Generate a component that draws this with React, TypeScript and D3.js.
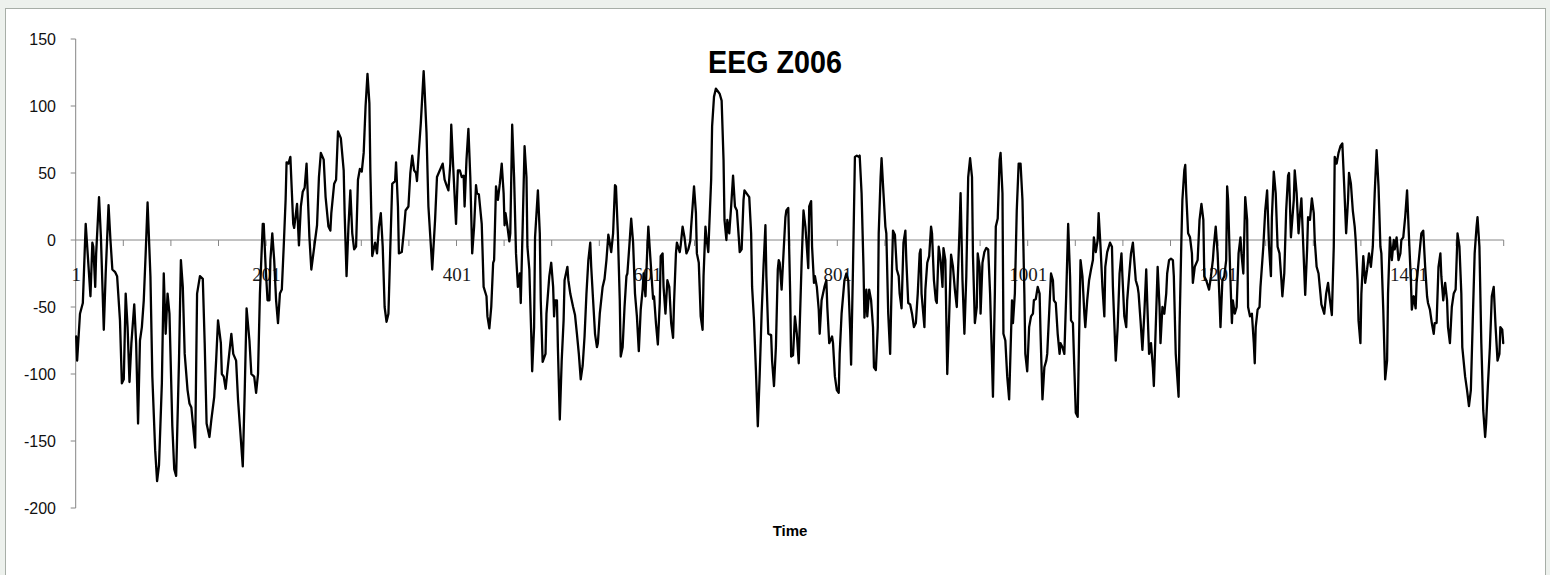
import React from 'react';
import * as d3 from 'd3';

const W = 1550;
const H = 575;
const chartTitle = 'EEG Z006';
const xAxisTitle = 'Time';
const sampleCount = 1500;
const yTicks = [-200, -150, -100, -50, 0, 50, 100, 150];
const xLabelSamples = [1, 201, 401, 601, 801, 1001, 1201, 1401];
const xTickStep = 50;

// [sample number, amplitude]
const eegSamples: [number, number][] = [
  [1,-72],[2,-90],[5,-55],[8,-47],[11,12],[14,-20],[16,-42],[18,-2],[19,-5],[21,-35],[22,-10],[25,32],[27,2],[30,-67],[32,-25],[35,26],[37,0],[39,-22],[42,-24],[44,-27],[47,-60],[49,-107],[51,-104],[53,-40],[55,-65],[57,-106],[59,-77],[62,-48],[64,-77],[66,-137],[68,-75],[70,-65],[72,-45],[74,-10],[76,28],[79,-27],[81,-102],[84,-157],[86,-180],[88,-168],[91,-107],[93,-25],[95,-70],[97,-40],[99,-55],[102,-139],[104,-171],[106,-176],[109,-90],[111,-15],[113,-35],[115,-85],[118,-112],[120,-122],[122,-125],[126,-155],[128,-40],
  [131,-27],[134,-29],[136,-77],[138,-137],[141,-147],[143,-134],[146,-117],[148,-90],[150,-60],[153,-77],[154,-100],[156,-102],[158,-111],[161,-90],[164,-70],[166,-85],[169,-90],[171,-119],[173,-139],[176,-169],[178,-114],[180,-51],[183,-75],[185,-100],[188,-102],[190,-114],[192,-100],[194,-40],[197,12],[198,12],[200,-20],[202,-45],[204,-45],[205,-15],[207,5],[209,-15],[211,-45],[213,-62],[215,-40],[217,-37],[219,-5],[221,30],[222,58],[224,57],[226,62],[227,45],[229,12],[230,9],[233,27],[235,-4],[237,25],[239,36],[241,39],[243,57],[246,2],[248,-22],[252,0],[254,11],[256,47],[258,65],[261,60],[263,32],[266,10],
  [268,7],[269,20],[272,42],[274,45],[276,81],[279,76],[282,52],[283,20],[285,-27],[287,10],[289,37],[291,5],[293,-7],[295,-5],[297,45],[299,53],[301,51],[303,65],[305,100],[307,124],[309,102],[310,52],[312,-12],[315,-2],[317,-10],[319,10],[321,20],[323,-5],[325,-50],[327,-61],[329,-55],[331,-5],[333,42],[336,44],[337,58],[339,25],[340,-10],[343,-9],[345,5],[347,22],[350,25],[352,50],[354,63],[356,52],[358,50],[359,44],[361,67],[363,87],[366,126],[367,112],[369,80],[371,25],[374,-9],[375,-22],[378,15],[380,47],[383,52],[386,57],[388,45],[390,41],[392,37],[394,57],[395,86],[397,55],[400,12],[402,52],
  [404,52],[406,47],[408,48],[409,25],[411,60],[413,83],[415,47],[417,-10],[419,10],[421,41],[422,35],[424,34],[427,12],[429,-35],[432,-42],[433,-57],[435,-66],[437,-50],[439,-17],[440,-15],[442,40],[444,30],[446,42],[448,57],[450,35],[451,11],[452,20],[454,10],[456,-1],[457,5],[459,86],[461,47],[463,-10],[465,-35],[467,-25],[468,-47],[470,10],[472,70],[474,47],[475,-5],[477,-22],[479,-70],[480,-98],[482,-65],[483,2],[486,37],[488,5],[489,-45],[491,-91],[494,-85],[495,-55],[498,-27],[500,-17],[502,-35],[503,-57],[504,-45],[506,-45],[507,-80],[509,-134],[511,-90],[513,-60],[514,-30],[517,-20],[518,-30],[520,-40],[523,-50],[525,-56],[527,-70],[529,-85],[531,-104],[533,-94],[535,-72],[537,-40],[539,-15],
  [541,-2],[542,-20],[544,-45],[546,-70],[548,-80],[549,-77],[551,-55],[554,-35],[556,-29],[558,-15],[560,4],[561,0],[563,-9],[565,5],[567,41],[568,40],[570,5],[572,-45],[573,-87],[575,-80],[577,-50],[579,-27],[580,-25],[582,-5],[584,16],[586,-2],[588,-40],[590,-57],[592,-83],[594,-52],[596,-37],[597,-25],[599,-42],[601,-5],[602,10],[604,-12],[607,-44],[608,-42],[610,-62],[612,-78],[614,-47],[615,-12],[617,-10],[618,-35],[620,-55],[622,-30],[624,-35],[626,-62],[628,-73],[629,-47],[631,-10],[632,-2],[635,-9],[636,-4],[638,10],[640,2],[642,-10],[644,-7],[646,-1],[647,10],[650,40],[652,20],[653,-10],[655,-17],[657,-57],[659,-67],[660,-27],[662,10],[663,2],[665,-9],[666,10],[668,45],[669,85],[671,107],[673,113],[675,111],
  [677,109],[679,104],[681,60],[682,15],[684,0],[685,15],[687,5],[689,25],[691,48],[693,25],[695,22],[697,2],[698,-9],[700,-7],[702,30],[703,37],[705,35],[708,32],[710,5],[711,-35],[713,-60],[715,-97],[717,-139],[719,-100],[721,-55],[723,-20],[725,11],[726,-27],[728,-70],[731,-71],[732,-90],[734,-109],[736,-80],[738,-22],[739,-15],[740,-17],[742,-37],[744,-10],[746,17],[747,22],[749,24],[751,-40],[752,-87],[754,-86],[756,-57],[758,-70],[760,-92],[761,-65],[763,-17],[765,22],[767,10],[768,0],[770,-21],[771,25],[773,29],[774,-5],[776,-32],[777,-27],[779,-35],[781,-52],[782,-70],[784,-45],[787,-35],[789,-30],[790,-50],[792,-77],[795,-72],[796,-77],[798,-102],[800,-112],[802,-114],[803,-85],[805,-55],[808,-30],[810,-25],[812,-30],
  [814,-67],[815,-93],[817,-20],[819,62],[821,63],[823,62],[824,63],[826,35],[828,-20],[829,-58],[831,-37],[832,-57],[834,-37],[836,-45],[838,-65],[839,-95],[841,-97],[843,-65],[844,5],[846,47],[847,61],[849,35],[851,10],[852,5],[854,-55],[856,-85],[858,-20],[859,7],[861,4],[863,-22],[865,-27],[866,-40],[868,-51],[870,-2],[872,7],[873,-15],[875,-47],[877,-48],[879,-55],[881,-65],[883,-62],[885,-40],[887,-10],[888,-7],[889,-40],[892,-65],[893,-37],[895,-17],[897,-12],[899,10],[900,5],[902,-30],[904,-45],[905,-47],[907,-5],[909,-15],[911,-35],[912,-6],[914,-15],[916,-100],[918,-57],[920,-11],[922,-20],[924,-37],[926,-50],[929,10],[930,35],[932,-30],[934,-70],[936,-27],[938,47],[940,61],[942,47],[943,-12],[945,-62],[947,-50],[948,-10],
  [950,-20],[951,-55],[953,-17],[955,-9],[957,-6],[959,-7],[961,-40],[963,-90],[964,-117],[966,-40],[967,10],[969,16],[971,60],[972,65],[974,35],[975,-70],[977,-75],[979,-102],[981,-119],[983,-70],[984,-45],[985,-62],[987,-40],[989,22],[991,57],[993,57],[995,30],[997,-40],[998,-85],[1000,-98],[1002,-65],[1004,-57],[1006,-55],[1007,-45],[1009,-44],[1011,-35],[1013,-40],[1014,-70],[1016,-119],[1018,-95],[1020,-90],[1021,-85],[1023,-55],[1025,-25],[1027,-30],[1028,-45],[1030,-47],[1032,-70],[1034,-85],[1035,-77],[1037,-80],[1039,-85],[1041,-40],[1043,12],[1045,-27],[1046,-60],[1048,-62],[1049,-85],[1051,-129],[1053,-132],[1055,-52],[1056,-15],[1058,-27],[1060,-55],[1061,-65],[1063,-45],[1065,-30],[1067,-22],[1069,-15],[1070,2],[1072,-9],[1074,0],[1075,20],[1077,-5],[1079,-35],[1081,-57],[1082,-20],[1084,-9],
  [1087,-2],[1089,-5],[1090,-35],[1093,-90],[1095,-65],[1097,-25],[1099,-10],[1100,-27],[1102,-57],[1104,-65],[1105,-45],[1107,-27],[1109,-10],[1111,-2],[1114,-30],[1116,-35],[1117,-40],[1119,-60],[1121,-82],[1123,-55],[1125,-22],[1126,-45],[1128,-85],[1130,-77],[1132,-95],[1133,-109],[1135,-65],[1137,-20],[1139,-50],[1140,-77],[1142,-50],[1144,-55],[1146,-40],[1147,-25],[1149,-15],[1151,-14],[1153,-15],[1154,-27],[1156,-85],[1159,-117],[1160,-65],[1162,2],[1163,30],[1165,52],[1166,56],[1167,35],[1169,5],[1171,2],[1173,-10],[1174,-32],[1176,-20],[1179,-15],[1181,15],[1183,27],[1185,15],[1186,-27],[1188,-30],[1191,-37],[1193,-27],[1195,-15],[1196,-5],[1198,10],[1200,-10],[1202,-45],[1203,-65],[1205,-30],[1207,-27],[1209,-15],[1210,40],[1211,30],[1213,-20],[1215,-62],[1216,-45],[1218,-55],[1220,-50],[1222,-10],
  [1224,2],[1225,-10],[1227,-25],[1229,32],[1231,15],[1232,-50],[1234,-57],[1236,-55],[1238,-77],[1239,-92],[1240,-65],[1242,-52],[1244,-50],[1245,-35],[1247,-15],[1248,-5],[1250,22],[1252,37],[1254,-5],[1256,-27],[1257,17],[1259,51],[1261,35],[1263,-5],[1265,-10],[1267,-30],[1268,-42],[1270,-25],[1272,22],[1274,48],[1275,50],[1277,2],[1280,30],[1281,52],[1283,35],[1285,5],[1286,15],[1288,31],[1290,-5],[1292,-41],[1294,-7],[1295,17],[1297,15],[1299,31],[1301,20],[1302,0],[1304,-20],[1306,-25],[1308,-40],[1309,-48],[1312,-55],[1314,-40],[1316,-32],[1318,-45],[1320,-56],[1322,-5],[1323,62],[1325,57],[1327,65],[1329,70],[1331,72],[1333,40],[1335,5],[1337,30],[1338,50],[1340,42],[1342,22],[1344,10],[1345,0],[1347,-30],[1348,-60],[1350,-77],[1351,-40],[1353,-12],[1355,-32],[1357,-22],[1359,-10],
  [1361,-20],[1363,-5],[1365,35],[1367,67],[1369,40],[1371,-5],[1372,-10],[1374,-52],[1376,-104],[1378,-90],[1379,-40],[1381,2],[1383,-15],[1385,0],[1386,-7],[1388,2],[1390,-15],[1392,-10],[1393,0],[1395,2],[1397,17],[1399,37],[1401,2],[1403,-30],[1404,-52],[1406,-42],[1408,-51],[1409,-32],[1412,-10],[1414,5],[1416,7],[1418,-20],[1420,-42],[1421,-47],[1423,-52],[1425,-62],[1427,-70],[1428,-62],[1430,-62],[1432,-20],[1434,-10],[1435,-27],[1437,-45],[1439,-32],[1441,-45],[1442,-65],[1444,-77],[1446,-50],[1448,-40],[1450,-37],[1452,5],[1454,-5],[1456,-40],[1457,-80],[1460,-102],[1462,-112],[1464,-124],[1466,-112],[1468,-60],[1470,-10],[1472,10],[1473,17],[1475,-5],[1477,-77],[1479,-127],[1481,-147],[1482,-137],[1484,-107],[1486,-80],[1488,-42],[1490,-35],[1492,-65],[1494,-90],[1496,-85],[1497,-65],[1499,-67],[1500,-77],
];

export default function App() {
  const x = d3.scaleLinear().domain([0.5, sampleCount + 0.5]).range([75.7, 1503.7]);
  const y = d3.scaleLinear().domain([-200, 150]).range([508, 39]);
  const linePath = d3
    .line<[number, number]>()
    .x((d) => x(d[0]))
    .y((d) => y(d[1]))(eegSamples) as string;
  const catTicks = d3.range(xTickStep, sampleCount + 1, xTickStep);
  const y0 = y(0);
  const axisColor = '#868686';

  return (
    <svg
      width={W}
      height={H}
      viewBox={`0 0 ${W} ${H}`}
      style={{ position: 'absolute', left: 0, top: 0, display: 'block' }}
    >
      <rect width={W} height={H} fill="#edf1ed" />
      <rect x={5.5} y={8.5} width={1540} height={570} fill="#ffffff" stroke="#a7aea7" strokeWidth={1} />

      {/* value axis */}
      <line x1={x.range()[0]} x2={x.range()[0]} y1={y(150)} y2={y(-200)} stroke={axisColor} strokeWidth={1} />
      {yTicks.map((t) => (
        <g key={`yt${t}`}>
          <line x1={x.range()[0] - 5} x2={x.range()[0]} y1={y(t)} y2={y(t)} stroke={axisColor} strokeWidth={1} />
          <text
            x={56}
            y={y(t)}
            dy="0.35em"
            textAnchor="end"
            fontFamily="'Liberation Sans Narrow', 'Liberation Sans', Arial, sans-serif"
            fontSize={16}
            fill="#111111"
          >
            {t}
          </text>
        </g>
      ))}

      {/* category axis crossing at zero */}
      <line x1={x.range()[0]} x2={x.range()[1]} y1={y0} y2={y0} stroke={axisColor} strokeWidth={1} />
      {catTicks.map((c) => (
        <line key={`xt${c}`} x1={x(c + 0.5)} x2={x(c + 0.5)} y1={y0} y2={y0 + 6} stroke={axisColor} strokeWidth={1} />
      ))}
      {xLabelSamples.map((s) => (
        <text
          key={`xl${s}`}
          x={x(s)}
          y={281}
          textAnchor="middle"
          fontFamily="'Liberation Serif', 'DejaVu Serif', serif"
          fontSize={19}
          fill="#1a1a1a"
        >
          {s}
        </text>
      ))}

      <path d={linePath} fill="none" stroke="#000000" strokeWidth={2.3} strokeLinejoin="round" strokeLinecap="round" />

      <text
        x={775}
        y={73}
        textAnchor="middle"
        fontFamily="'Liberation Sans Narrow', 'Liberation Sans', Arial, sans-serif"
        fontWeight="bold"
        fontSize={31}
        textLength={134}
        lengthAdjust="spacingAndGlyphs"
        fill="#000000"
      >
        {chartTitle}
      </text>
      <text
        x={790}
        y={536}
        textAnchor="middle"
        fontFamily="'Liberation Sans Narrow', 'Liberation Sans', Arial, sans-serif"
        fontWeight="bold"
        fontSize={15}
        fill="#000000"
      >
        {xAxisTitle}
      </text>
    </svg>
  );
}
